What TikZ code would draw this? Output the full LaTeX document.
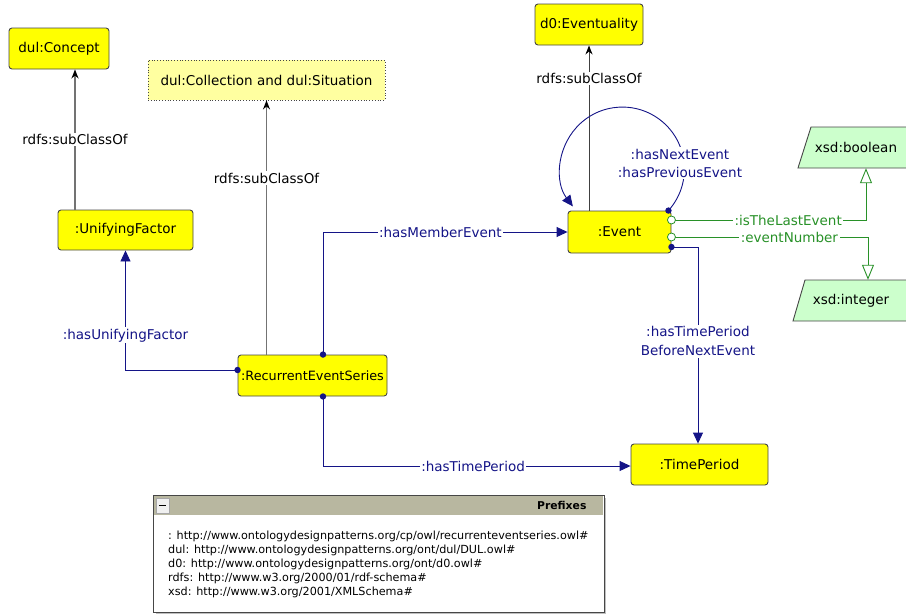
\documentclass[tikz,border=0pt]{standalone}
\usepackage{fontspec}
\setmainfont{DejaVu Sans}
\usetikzlibrary{arrows.meta,calc}
\definecolor{navyc}{RGB}{20,20,135}
\definecolor{greenc}{RGB}{40,145,40}
\definecolor{clsy}{RGB}{255,255,0}
\definecolor{clsl}{RGB}{255,255,160}
\definecolor{dtype}{RGB}{204,255,204}
\definecolor{hdr}{RGB}{184,183,160}
\definecolor{bord}{RGB}{70,70,70}
\definecolor{subg}{RGB}{115,115,115}
\begin{document}
\begin{tikzpicture}[x=1pt,y=-1pt,
  every node/.style={font=\fontsize{13.5}{16}\selectfont},
  clsbox/.style={draw=bord, fill=clsy, rounded corners=3pt, line width=0.9pt, inner sep=0pt, minimum height=41pt},
  anonbox/.style={draw=bord, fill=clsl, dotted, line width=0.8pt, inner sep=0pt, minimum height=40pt, minimum width=237pt},
  lbl/.style={fill=white, inner sep=1.5pt},
  oplbl/.style={lbl, text=navyc},
  dplbl/.style={lbl, text=greenc},
  subedge/.style={draw=subg, line width=1.5pt, -{Stealth[length=9pt,width=7pt,color=black]}},
  objedge/.style={draw=navyc, line width=0.9pt, -{Triangle[length=11pt,width=10pt]}},
  dpedge/.style={draw=greenc, line width=0.9pt, -{Triangle[open,length=15pt,width=12pt,fill=white]}},
  dtshape/.style={draw=bord, fill=dtype, line width=0.9pt}
]
\useasboundingbox (0,0) rectangle (906,614);

% class nodes
\node[clsbox, minimum width=100pt] (concept) at (59,48.5) {dul:Concept};
\node[anonbox] (coll) at (266.5,80) {dul:Collection and dul:Situation};
\node[clsbox, minimum width=108pt] (evt) at (589,24.5) {d0:Eventuality};
\node[clsbox, minimum width=135pt, minimum height=40pt] (uf) at (125.5,230) {:UnifyingFactor};
\node[clsbox, minimum width=149pt, font=\fontsize{12.8}{16}\selectfont] (res) at (312.5,375.5) {:RecurrentEventSeries};
\node[clsbox, minimum width=103pt, minimum height=42pt] (ev) at (619.5,232) {:Event};
\node[clsbox, minimum width=137pt] (tp) at (699.5,464.5) {:TimePeriod};

% datatypes
\begin{scope}
\clip (0,0) rectangle (906,614);
\draw[dtshape] (798,168) -- (811,127) -- (925,127) -- (912,168) -- cycle;
\draw[dtshape] (793,321) -- (805,280) -- (925,280) -- (912,321) -- cycle;
\end{scope}
\node[minimum width=110pt, minimum height=41pt, inner sep=0pt] (bool) at (856,147.5) {xsd:boolean};
\node[minimum width=110pt, minimum height=41pt, inner sep=0pt] (int) at (851,300.5) {xsd:integer};

% subclass edges
\draw[subedge] ([xshift=-50.5pt]uf.north) -- ([xshift=-50.5pt]uf.north |- concept.south)
  node[lbl, pos=0.5] (l1) {rdfs:subClassOf};
\draw[subedge] (coll.south |- res.north) -- (coll.south)
  node[lbl, pos=0.694] (l2) {rdfs:subClassOf};
\draw[subedge, draw=black!75, line width=1pt] (evt.south |- ev.north) -- (evt.south)
  node[lbl, pos=0.8] (l3) {rdfs:subClassOf};

% object properties
\draw[objedge] ([yshift=5.5pt]res.west) -| (uf.south)
  node[oplbl, pos=0.645] (l4) {:hasUnifyingFactor};
\fill[navyc] ([yshift=5.5pt]res.west) circle (3.2pt);

\draw[objedge] ([xshift=10.5pt]res.north) |- (ev.west)
  node[oplbl, pos=0.74] (l5) {:hasMemberEvent};
\fill[navyc] ([xshift=10.5pt]res.north) circle (3.2pt);

\draw[objedge] ([xshift=10.5pt]res.south) |- ([yshift=-1.5pt]tp.west)
  node[oplbl, pos=0.744] (l6) {:hasTimePeriod};
\fill[navyc] ([xshift=10.5pt]res.south) circle (3.2pt);

\draw[objedge] ([yshift=-15pt]ev.east) -| ([xshift=-1.5pt]tp.north)
  node[oplbl, pos=0.74, align=center, font=\fontsize{13.5}{19}\selectfont] (l7) {:hasTimePeriod\\BeforeNextEvent};
\fill[navyc] ([yshift=-15pt]ev.east) circle (3.2pt);

\draw[objedge] ([xshift=-3pt]ev.north east) arc[start angle=42, end angle=-217, radius=62];
\node[oplbl, align=center, font=\fontsize{13.5}{18}\selectfont] (l8) at (680,163) {:hasNextEvent\\:hasPreviousEvent};
\fill[navyc] ([xshift=-3pt]ev.north east) circle (3.2pt);

% datatype properties
\draw[dpedge] ([yshift=12pt]ev.east) -| ([xshift=10pt]bool.south)
  node[dplbl, pos=0.3] (l9) {:isTheLastEvent};
\draw[greenc, fill=white, line width=0.8pt] ([yshift=12pt]ev.east) circle (4pt);
\draw[dpedge] ([yshift=-5pt]ev.east) -| ([xshift=17pt]int.north)
  node[dplbl, pos=0.3] (l10) {:eventNumber};
\draw[greenc, fill=white, line width=0.8pt] ([yshift=-5pt]ev.east) circle (4pt);

% prefixes box
\fill[black!25] (156,498) rectangle (606,614);
\draw[fill=white, draw=bord, line width=1pt] (153,495) rectangle (604,612);
\fill[hdr] (154,496) rectangle (603,515);
\draw[fill=black!6, draw=black!35] (156,498) rectangle (169,513);
\draw[line width=1.6pt] (159,505.5) -- (166,505.5);
\node[anchor=east, font=\fontsize{10.8}{12}\selectfont\bfseries] (pfxh) at (590,505.5) {Prefixes};
\node[anchor=west, align=left, inner sep=0pt, font=\fontsize{11.2}{13.8}\selectfont] (pfx) at (168,564.5)
 {: http://www.ontologydesignpatterns.org/cp/owl/recurrenteventseries.owl\#\\
  dul: http://www.ontologydesignpatterns.org/ont/dul/DUL.owl\#\\
  d0: http://www.ontologydesignpatterns.org/ont/d0.owl\#\\
  rdfs: http://www.w3.org/2000/01/rdf-schema\#\\
  xsd: http://www.w3.org/2001/XMLSchema\#};
\end{tikzpicture}
\end{document}
